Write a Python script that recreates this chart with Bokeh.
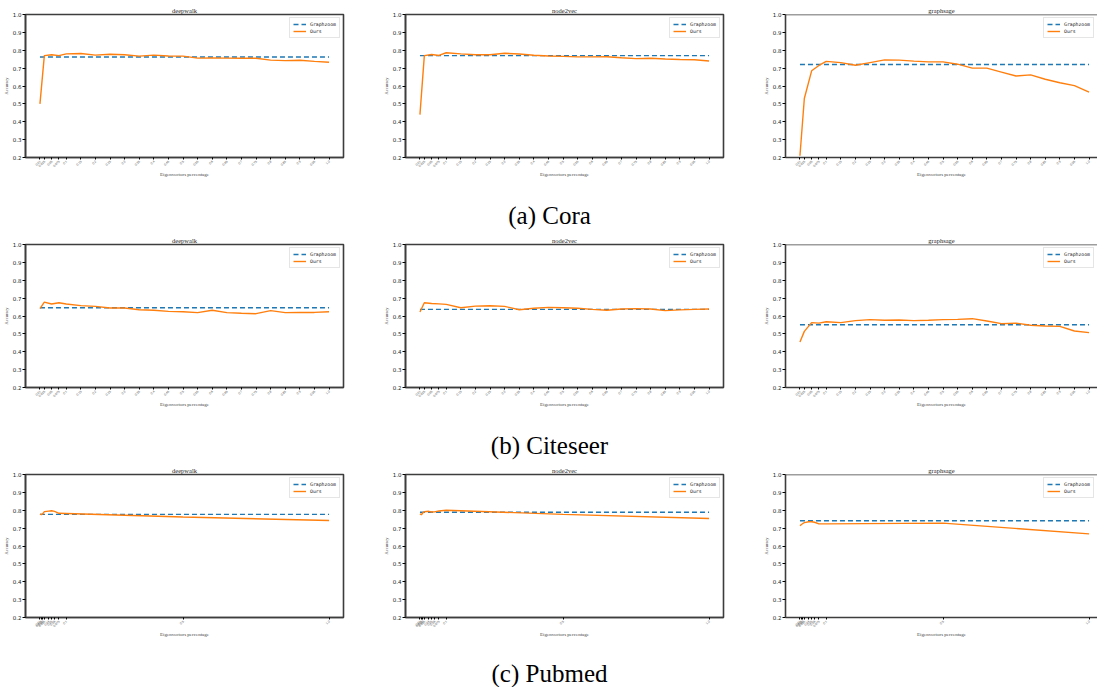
import math
from bokeh.plotting import figure
from bokeh.layouts import column, row
from bokeh.models import FixedTicker, Legend, LegendItem, Span, Range1d
from bokeh.embed import file_html
from bokeh.resources import INLINE
from bokeh.core.properties import value

methods = ["deepwalk", "node2vec", "graphsage"]
captions = ["(a) Cora", "(b) Citeseer", "(c) Pubmed"]

# Eigenvector percentages (x) and their tick labels
x_cora = [0.01, 0.025, 0.05, 0.075, 0.1, 0.15, 0.2, 0.25, 0.3, 0.35, 0.4, 0.45,
          0.5, 0.55, 0.6, 0.65, 0.7, 0.75, 0.8, 0.85, 0.9, 0.95, 1.0]
x_cora_labels = ["0.01", "0.025", "0.05", "0.075", "0.1", "0.15", "0.2", "0.25", "0.3",
                 "0.35", "0.4", "0.45", "0.5", "0.55", "0.6", "0.65", "0.7", "0.75",
                 "0.8", "0.85", "0.9", "0.95", "1.0"]
x_citeseer = x_cora
x_citeseer_labels = x_cora_labels
x_pubmed = [0.01, 0.015, 0.02, 0.025, 0.04, 0.05, 0.06, 0.075, 0.1, 0.5, 1.0]
x_pubmed_labels = ["0.01", "0.015", "0.02", "0.025", "0.04", "0.05", "0.06", "0.075",
                   "0.1", "0.5", "1.0"]

# Cora
cora_deepwalk_graphzoom = 0.762
cora_deepwalk_ours = [0.50, 0.770, 0.775, 0.770, 0.780, 0.782, 0.773, 0.778, 0.775, 0.767,
                      0.773, 0.768, 0.767, 0.756, 0.757, 0.756, 0.755, 0.755, 0.745, 0.742,
                      0.744, 0.738, 0.733]
cora_node2vec_graphzoom = 0.770
cora_node2vec_ours = [0.44, 0.770, 0.776, 0.771, 0.786, 0.780, 0.775, 0.775, 0.783, 0.779,
                      0.772, 0.768, 0.766, 0.763, 0.763, 0.764, 0.758, 0.753, 0.755, 0.751,
                      0.748, 0.747, 0.740]
cora_graphsage_graphzoom = 0.720
cora_graphsage_ours = [0.21, 0.53, 0.685, 0.715, 0.738, 0.731, 0.716, 0.731, 0.746, 0.745,
                       0.739, 0.735, 0.735, 0.722, 0.700, 0.700, 0.678, 0.656, 0.662, 0.638,
                       0.618, 0.602, 0.566]
# Citeseer
citeseer_deepwalk_graphzoom = 0.646
citeseer_deepwalk_ours = [0.641, 0.678, 0.667, 0.674, 0.667, 0.658, 0.654, 0.645, 0.645,
                          0.635, 0.632, 0.626, 0.624, 0.619, 0.632, 0.619, 0.615, 0.613,
                          0.630, 0.619, 0.620, 0.620, 0.624]
citeseer_node2vec_graphzoom = 0.637
citeseer_node2vec_ours = [0.622, 0.674, 0.670, 0.668, 0.665, 0.646, 0.655, 0.657, 0.654,
                          0.635, 0.643, 0.648, 0.646, 0.643, 0.637, 0.632, 0.639, 0.641,
                          0.639, 0.630, 0.634, 0.637, 0.639]
citeseer_graphsage_graphzoom = 0.551
citeseer_graphsage_ours = [0.455, 0.514, 0.563, 0.560, 0.568, 0.563, 0.574, 0.580, 0.576,
                           0.578, 0.574, 0.576, 0.580, 0.581, 0.585, 0.572, 0.557, 0.560,
                           0.548, 0.544, 0.542, 0.516, 0.507]
# Pubmed
pubmed_deepwalk_graphzoom = 0.777
pubmed_deepwalk_ours = [0.778, 0.776, 0.781, 0.792, 0.795, 0.797, 0.794, 0.783, 0.782,
                        0.762, 0.743]
pubmed_node2vec_graphzoom = 0.789
pubmed_node2vec_ours = [0.780, 0.775, 0.786, 0.792, 0.794, 0.790, 0.791, 0.796, 0.800,
                        0.777, 0.754]
pubmed_graphsage_graphzoom = 0.741
pubmed_graphsage_ours = [0.713, 0.720, 0.726, 0.731, 0.736, 0.736, 0.733, 0.724, 0.724,
                         0.728, 0.668]

y_ticks = [0.2, 0.3, 0.4, 0.5, 0.6, 0.7, 0.8, 0.9, 1.0]
y_tick_labels = ["0.2", "0.3", "0.4", "0.5", "0.6", "0.7", "0.8", "0.9", "1.0"]

rows_data = [
    (x_cora, x_cora_labels,
     [(cora_deepwalk_ours, cora_deepwalk_graphzoom),
      (cora_node2vec_ours, cora_node2vec_graphzoom),
      (cora_graphsage_ours, cora_graphsage_graphzoom)]),
    (x_citeseer, x_citeseer_labels,
     [(citeseer_deepwalk_ours, citeseer_deepwalk_graphzoom),
      (citeseer_node2vec_ours, citeseer_node2vec_graphzoom),
      (citeseer_graphsage_ours, citeseer_graphsage_graphzoom)]),
    (x_pubmed, x_pubmed_labels,
     [(pubmed_deepwalk_ours, pubmed_deepwalk_graphzoom),
      (pubmed_node2vec_ours, pubmed_node2vec_graphzoom),
      (pubmed_graphsage_ours, pubmed_graphsage_graphzoom)]),
]

BLUE = "#1f77b4"
ORANGE = "#ff7f0e"
SPINE = "#3d3d3d"
X0 = -0.0395
X1 = 1.0495
FW = 318
FW3 = 312
PX_PER_UNIT = FW / (X1 - X0)
BORDER_L = 20
BORDER_R = 37
BORDER_T = 14
BORDER_B = 26
FRAME_H = 143


def make_fig(title, xs, xlabels, ours, gz, col):
    fw = FW if col < 2 else FW3
    xend = X1 if col < 2 else X0 + fw / PX_PER_UNIT
    p = figure(frame_width=fw, frame_height=FRAME_H,
               x_range=Range1d(X0, xend), y_range=Range1d(0.2, 1.0),
               output_backend="svg", toolbar_location=None,
               min_border_left=BORDER_L, min_border_right=(BORDER_R if col < 2 else 0),
               min_border_top=BORDER_T, min_border_bottom=BORDER_B, title=title)
    p.title.text_font = "Liberation Serif"
    p.title.text_font_size = "6.5px"
    p.title.text_font_style = "normal"
    p.title.align = "center"
    p.title.standoff = 1
    p.title.text_color = "#222222"
    p.xgrid.visible = False
    p.ygrid.visible = False
    if col < 2:
        p.outline_line_color = SPINE
        p.outline_line_width = 1.6
    else:
        p.outline_line_color = None
        p.add_layout(Span(location=1.0, dimension="width", line_color=SPINE, line_width=1.6))

    xa = p.xaxis[0]
    xa.ticker = FixedTicker(ticks=xs)
    xa.major_label_overrides = {x: l for x, l in zip(xs, xlabels)}
    xa.major_label_orientation = math.pi / 4
    xa.major_label_text_font_size = "3.2px"
    xa.major_label_text_color = "#555555"
    xa.major_label_standoff = 1
    xa.major_tick_out = 2
    xa.major_tick_in = 0
    xa.axis_label = "Eigenvectors percentage"
    xa.axis_label_text_font = "Liberation Serif"
    xa.axis_label_text_font_size = "5px"
    xa.axis_label_text_font_style = "normal"
    xa.axis_label_standoff = 1
    xa.axis_line_color = SPINE
    xa.axis_line_width = 1.6

    ya = p.yaxis[0]
    ya.ticker = FixedTicker(ticks=y_ticks)
    ya.major_label_overrides = {y: l for y, l in zip(y_ticks, y_tick_labels)}
    ya.major_label_text_font = "DejaVu Sans"
    ya.major_label_text_font_size = "5.5px"
    ya.major_label_text_color = "#222222"
    ya.major_label_standoff = 1
    ya.major_tick_out = 3
    ya.major_tick_in = 0
    ya.axis_label = "Accuracy"
    ya.axis_label_text_font = "Liberation Serif"
    ya.axis_label_text_font_size = "4.5px"
    ya.axis_label_text_font_style = "normal"
    ya.axis_label_standoff = 1
    ya.axis_line_color = SPINE
    ya.axis_line_width = 1.6

    r_gz = p.line([xs[0], xs[-1]], [gz, gz], line_color=BLUE, line_width=1.4, line_dash="5 3")
    r_ours = p.line(xs, ours, line_color=ORANGE, line_width=1.4)

    legend = Legend(items=[LegendItem(label="Graphzoom", renderers=[r_gz]),
                           LegendItem(label="Ours", renderers=[r_ours])],
                    location="top_right")
    legend.label_text_font = "DejaVu Sans Mono"
    legend.label_text_font_size = "4.8px"
    legend.label_text_color = "#222222"
    legend.label_height = 6
    legend.label_standoff = 4
    legend.glyph_height = 6
    legend.glyph_width = 13
    legend.spacing = 1
    legend.padding = 3
    legend.margin = 3
    legend.border_line_color = "#cccccc"
    legend.border_line_width = 0.8
    legend.background_fill_alpha = 0.9
    p.add_layout(legend)
    return p


def caption_fig(text, h, cy):
    c = figure(width=1090, height=h, x_range=Range1d(0, 1090), y_range=Range1d(0, h),
               output_backend="svg", toolbar_location=None, min_border=0,
               x_axis_location=None, y_axis_location=None)
    c.xgrid.visible = False
    c.ygrid.visible = False
    c.outline_line_color = None
    c.text(x=[549], y=[h - cy], text=[text], text_align="center", text_baseline="middle",
           text_font=value("Liberation Serif"), text_font_size="25px", text_color="black")
    return c


blocks = []
fig_h = BORDER_T + FRAME_H + BORDER_B
cap_specs = [(230 - fig_h, 32), (230 - fig_h, 32), (44, 30)]
for ri, (xs, xl, series) in enumerate(rows_data):
    figs = [make_fig(methods[ci], xs, xl, ours, gz, ci) for ci, (ours, gz) in enumerate(series)]
    blocks.append(row(*figs))
    h, cy = cap_specs[ri]
    blocks.append(caption_fig(captions[ri], h, cy))

layout = column(*blocks)
open("out.html", "w").write(file_html(layout, INLINE))
